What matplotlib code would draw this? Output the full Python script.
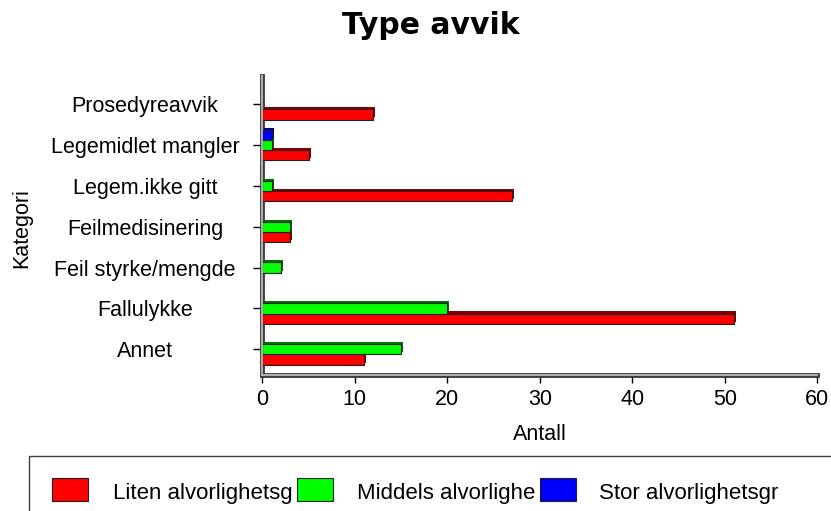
import matplotlib.pyplot as plt
import matplotlib.patheffects as pe
from matplotlib.patches import Rectangle
import numpy as np

plt.rcParams["font.family"] = ["Liberation Sans", "DejaVu Sans"]

# categories bottom -> top
categories = ["Annet", "Fallulykke", "Feil styrke/mengde", "Feilmedisinering",
              "Legem.ikke gitt", "Legemidlet mangler", "Prosedyreavvik"]
liten = [11, 51, 0, 3, 27, 5, 12]
middels = [15, 20, 2, 3, 1, 1, 0]
stor = [0, 0, 0, 0, 0, 1, 0]
series_names = ["Liten alvorlighetsg", "Middels alvorlighe", "Stor alvorlighetsgr"]
x_ticks = [0, 10, 20, 30, 40, 50, 60]

W, H = 831, 511
fig = plt.figure(figsize=(W / 100, H / 100), dpi=100)
ax = fig.add_axes([262.3 / W, 1 - 375 / H, (817.3 - 262.3) / W, (375 - 76) / H])

pos = np.arange(len(categories))
bh = 0.25
series = [
    (liten, -bh, "#ff0000", "#800000"),
    (middels, 0.0, "#00ff00", "#007000"),
    (stor, bh, "#0000ff", "#000080"),
]
for vals, off, col, shade in series:
    vals = np.array(vals)
    m = vals > 0
    bars = ax.barh(pos[m] + off, vals[m], height=bh, color=col,
                   edgecolor="#202020", linewidth=0.8, zorder=3)
    for b in bars:
        b.set_path_effects([pe.SimplePatchShadow(offset=(1.5, 1.5), shadow_rgbFace=shade, alpha=1),
                            pe.Normal()])

ax.set_xlim(0, 60)
ax.set_ylim(-0.63, 6.69)
ax.set_xticks(x_ticks)
ax.set_yticks(pos)
ax.set_yticklabels(categories)
for lab in ax.get_yticklabels():
    lab.set_horizontalalignment("center")
ax.tick_params(axis="y", length=6.5, width=1, pad=78, labelsize=15.5)
ax.tick_params(axis="x", length=6, width=1, pad=4, labelsize=15.5)

for s in ["top", "right"]:
    ax.spines[s].set_visible(False)
for s in ["left", "bottom"]:
    ax.spines[s].set_color("#404040")
    ax.spines[s].set_linewidth(3.5)
ax.axvline(0, color="#b8b8b8", lw=1.3, zorder=4, clip_on=False)
ax.axhline(-0.63, color="#b8b8b8", lw=1.3, zorder=4, clip_on=False)

fig.text(540 / W, 1 - 440 / H, "Antall", fontsize=15.5, ha="center", va="baseline")
fig.text(22 / W, 1 - 228 / H, "Kategori", rotation=90, fontsize=15.5,
         ha="center", va="center")
fig.text(431 / W, 1 - 34.3 / H, "Type avvik", fontsize=21.5, fontweight="bold",
         family="DejaVu Sans", ha="center", va="baseline")

# legend box (runs off the figure on the right and bottom)
fig.patches.append(Rectangle((29 / W, -0.05), 0.99, (1 - 456 / H) + 0.05,
                             transform=fig.transFigure, facecolor="white",
                             edgecolor="#404040", linewidth=1))
sw_x = [52, 297, 540]
txt_x = [113, 357, 599]
cols = ["#ff0000", "#00ff00", "#0000ff"]
for sx, tx, c, name in zip(sw_x, txt_x, cols, series_names):
    fig.patches.append(Rectangle((sx / W, 1 - 501 / H), 36 / W, 23 / H,
                                 transform=fig.transFigure, facecolor=c,
                                 edgecolor="#202020", linewidth=0.8))
    fig.text(tx / W, 1 - 499 / H, name, fontsize=16, ha="left", va="baseline")

fig.savefig("out.png", dpi=100)
